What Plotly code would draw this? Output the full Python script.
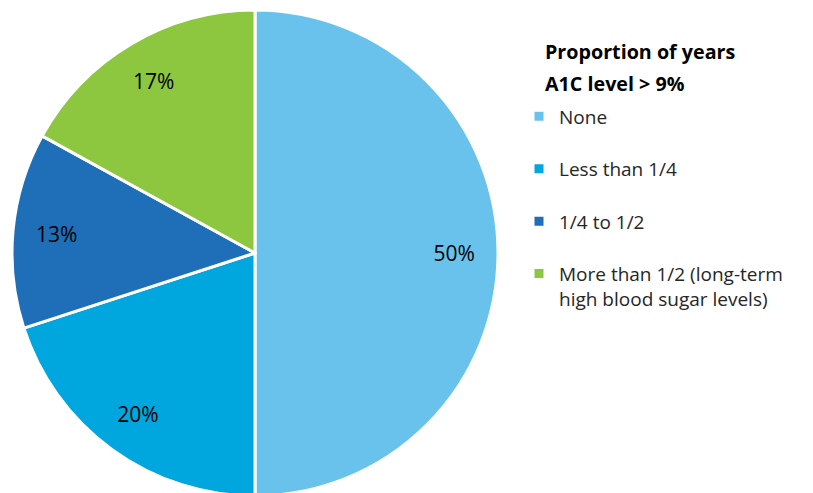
import plotly.graph_objects as go

labels = ["None", "Less than 1/4", "1/4 to 1/2", "More than 1/2 (long-term<br>high blood sugar levels)"]
values = [50, 20, 13, 17]
colors = ["#68C2EC", "#00A7DE", "#1F6FB8", "#8DC63F"]
title_lines = ["Proportion of years", "A1C level > 9%"]

W, H = 813, 493
FONT = "Open Sans, sans-serif"
dom = dict(x=[4 / W, 490 / W], y=[5 / H, 491 / H])

legend_labels = [l if "<br>" in l else l + "<br> " for l in labels]

fig = go.Figure()
fig.add_trace(go.Pie(
    labels=legend_labels,
    values=values,
    sort=False,
    direction="clockwise",
    rotation=0,
    marker=dict(colors=colors, line=dict(color="white", width=3)),
    textinfo="none",
    domain=dom,
    hoverinfo="label+percent",
))
# transparent ring used only to place the percentage labels near the rim
fig.add_trace(go.Pie(
    labels=legend_labels,
    values=values,
    sort=False,
    direction="clockwise",
    rotation=0,
    hole=0.64,
    marker=dict(colors=["rgba(0,0,0,0)"] * len(values), line=dict(width=0)),
    texttemplate="%{value}%",
    textposition="inside",
    insidetextorientation="horizontal",
    textfont=dict(family=FONT, size=21, color="black"),
    domain=dom,
    showlegend=False,
    hoverinfo="skip",
))

fig.update_layout(
    width=W, height=H,
    margin=dict(l=0, r=0, t=0, b=0),
    paper_bgcolor="white",
    plot_bgcolor="white",
    font=dict(family=FONT, size=19, color="#262626"),
    legend=dict(
        x=511 / W, xanchor="left",
        y=1 - 89.5 / H, yanchor="top",
        valign="top",
        itemwidth=30,
        font=dict(family=FONT, size=19, color="#262626"),
        traceorder="normal",
    ),
    annotations=[
        dict(text="<b>" + title_lines[0] + "</b>", x=535 / W, y=1 - 44 / H,
             xref="paper", yref="paper", xanchor="left", yanchor="middle",
             showarrow=False, font=dict(family=FONT, size=19.7, color="black")),
        dict(text="<b>" + title_lines[1] + "</b>", x=535 / W, y=1 - 76 / H,
             xref="paper", yref="paper", xanchor="left", yanchor="middle",
             showarrow=False, font=dict(family=FONT, size=19.7, color="black")),
    ],
)

fig.write_html("out.html")
